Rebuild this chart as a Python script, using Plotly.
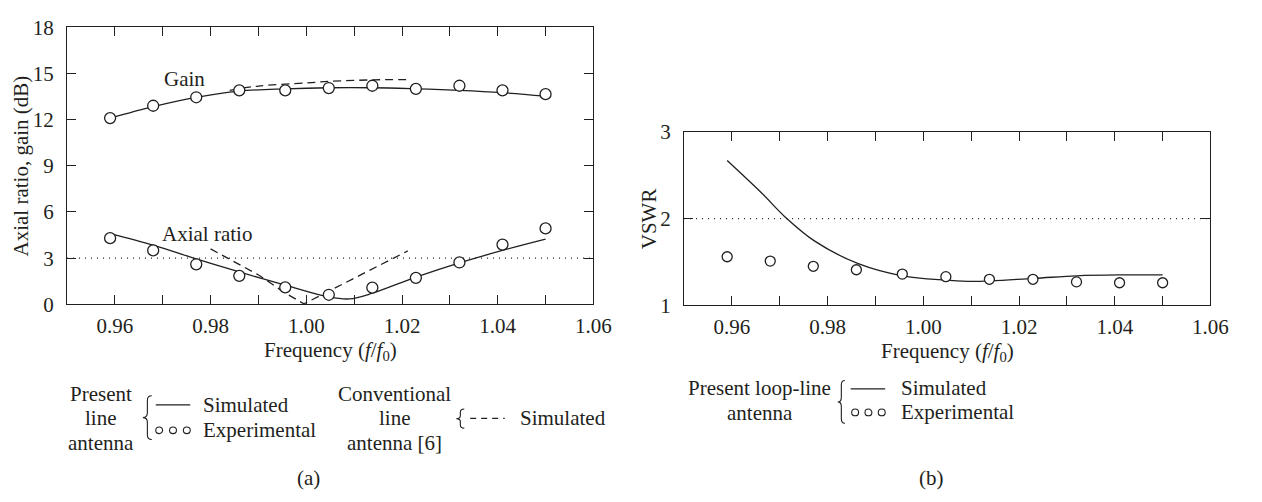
import plotly.graph_objects as go

# ---- data -------------------------------------------------------------
# (a) present line antenna, experimental points
freq_exp = [0.959, 0.968, 0.977, 0.986, 0.9956, 1.0047, 1.0138, 1.0229, 1.032, 1.041, 1.050]
gain_exp = [12.1, 12.9, 13.45, 13.9, 13.9, 14.05, 14.2, 14.0, 14.2, 13.9, 13.65]
ar_exp = [4.3, 3.5, 2.6, 1.85, 1.1, 0.62, 1.08, 1.72, 2.72, 3.88, 4.93]

# (a) present line antenna, simulated
freq_gain_sim = [0.959, 0.968, 0.977, 0.986, 0.9956, 1.0047, 1.0138, 1.0229, 1.032, 1.041, 1.050]
gain_sim = [12.1, 12.85, 13.45, 13.85, 14.0, 14.07, 14.07, 14.0, 13.9, 13.75, 13.52]
freq_ar_sim = [0.959, 0.968, 0.977, 0.986, 0.9956, 1.0047, 1.009, 1.0138, 1.0229, 1.032, 1.041, 1.050]
ar_sim = [4.6, 3.85, 2.95, 2.1, 1.25, 0.48, 0.35, 0.72, 1.76, 2.69, 3.5, 4.23]

# (a) conventional line antenna [6], simulated
freq_gain_conv = [0.984, 0.990, 1.0, 1.0047, 1.0138, 1.0212]
gain_conv = [13.9, 14.18, 14.38, 14.48, 14.58, 14.6]
freq_ar_conv = [0.980, 0.9903, 0.9951, 0.9995, 1.0212]
ar_conv = [3.6, 1.86, 0.83, 0.03, 3.47]

# (b) present loop-line antenna
vswr_exp = [1.56, 1.51, 1.45, 1.41, 1.36, 1.33, 1.30, 1.30, 1.27, 1.26, 1.26]
freq_vswr_sim = [0.959, 0.9663, 0.9711, 0.9773, 0.9864, 0.9956, 1.0048, 1.0103, 1.023, 1.032, 1.041, 1.050]
vswr_sim = [2.67, 2.29, 2.02, 1.74, 1.48, 1.34, 1.29, 1.275, 1.31, 1.34, 1.35, 1.35]

ar_limit = 3.0
vswr_limit = 2.0

x_ticks = [0.96, 0.98, 1.00, 1.02, 1.04, 1.06]
x_tick_text = ["0.96", "0.98", "1.00", "1.02", "1.04", "1.06"]
y_ticks_a = [0, 3, 6, 9, 12, 15, 18]
y_ticks_b = [1, 2, 3]

# ---- styling ------------------------------------------------------------
W, H = 1262, 502
INK = "#231f20"
FONT = "'Liberation Serif', 'Times New Roman', serif"
FS = 21


def px(x):
    return x / W


def py(y):
    return 1 - y / H


fig = go.Figure()

line_style = dict(color=INK, width=1.3)
marker_style = dict(symbol="circle", size=11, color="white",
                    line=dict(color=INK, width=1.3))
dotted = dict(color=INK, width=1.1, dash="1px,5px")
dashed = dict(color=INK, width=1.3, dash="8px,5px")

# (a) traces
fig.add_trace(go.Scatter(x=[0.95, 1.06], y=[ar_limit, ar_limit], mode="lines",
                         line=dotted, xaxis="x", yaxis="y"))
fig.add_trace(go.Scatter(x=freq_gain_conv, y=gain_conv, mode="lines",
                         line=dashed, line_shape="spline", xaxis="x", yaxis="y"))
fig.add_trace(go.Scatter(x=freq_ar_conv, y=ar_conv, mode="lines",
                         line=dashed, xaxis="x", yaxis="y"))
fig.add_trace(go.Scatter(x=freq_gain_sim, y=gain_sim, mode="lines",
                         line=line_style, line_shape="spline",
                         xaxis="x", yaxis="y"))
fig.add_trace(go.Scatter(x=freq_ar_sim, y=ar_sim, mode="lines",
                         line=line_style, line_shape="spline",
                         xaxis="x", yaxis="y"))
fig.add_trace(go.Scatter(x=freq_exp, y=gain_exp, mode="markers",
                         marker=marker_style, xaxis="x", yaxis="y"))
fig.add_trace(go.Scatter(x=freq_exp, y=ar_exp, mode="markers",
                         marker=marker_style, xaxis="x", yaxis="y"))

# (b) traces
fig.add_trace(go.Scatter(x=[0.95, 1.06], y=[vswr_limit, vswr_limit], mode="lines",
                         line=dotted, xaxis="x2", yaxis="y2"))
fig.add_trace(go.Scatter(x=freq_vswr_sim, y=vswr_sim, mode="lines",
                         line=line_style, line_shape="spline",
                         xaxis="x2", yaxis="y2"))
fig.add_trace(go.Scatter(x=freq_exp, y=vswr_exp, mode="markers",
                         marker=dict(symbol="circle", size=10, color="white",
                                     line=dict(color=INK, width=1.3)),
                         xaxis="x2", yaxis="y2"))

axis_common = dict(showgrid=False, zeroline=False, showline=True, linecolor=INK,
                   linewidth=1.2, mirror="ticks", ticks="inside", ticklen=9,
                   tickwidth=1.1, tickcolor=INK, fixedrange=True,
                   tickfont=dict(family=FONT, size=FS, color=INK))
x_common = dict(axis_common, range=[0.95, 1.06], tickvals=x_ticks,
                ticktext=x_tick_text, ticklabelstandoff=2,
                minor=dict(dtick=0.01, tick0=0.95, ticks="inside", ticklen=9,
                           tickwidth=1.1, tickcolor=INK))

fig.update_layout(
    width=W, height=H,
    margin=dict(l=0, r=0, t=0, b=0),
    paper_bgcolor="white", plot_bgcolor="white",
    showlegend=False,
    font=dict(family=FONT, size=FS, color=INK),
    xaxis=dict(x_common, domain=[px(68), px(602)], anchor="y"),
    yaxis=dict(axis_common, domain=[py(307), py(16)], range=[0, 18],
               tickvals=y_ticks_a, ticklabelstandoff=8, anchor="x"),
    xaxis2=dict(x_common, domain=[px(694), px(1228)], anchor="y2"),
    yaxis2=dict(axis_common, domain=[py(308), py(126)], range=[1, 3],
                tickvals=y_ticks_b, ticklabelstandoff=8, anchor="x2"),
)

ann = []


def text(x, y, s, anchor="center", size=FS, angle=0, xref="paper", yref="paper"):
    ann.append(dict(x=x, y=y, xref=xref, yref=yref, text=s, showarrow=False,
                    xanchor=anchor, yanchor="middle", textangle=angle,
                    font=dict(family=FONT, size=size, color=INK)))


freq_title = "Frequency (<i>f</i>/<i>f</i><sub>0</sub>)"

# axis titles
text(px(21), py(161.5), "Axial ratio, gain (dB)", angle=-90)
text(px(335), py(355.5), freq_title)
text(px(658), py(217), "VSWR", angle=-90)
text(px(961), py(357), freq_title)

# curve labels in (a)
text(0.9746, 14.65, "Gain", xref="x", yref="y")
text(0.9793, 4.55, "Axial ratio", xref="x", yref="y")

# legend of (a)
text(px(102.5), py(401.7), "Present")
text(px(102.5), py(426.7), "line")
text(px(102.5), py(452.7), "antenna")
text(px(204), py(412.7), "Simulated", anchor="left")
text(px(204), py(439.3), "Experimental", anchor="left")
text(px(400.5), py(401), "Conventional")
text(px(400.5), py(426.7), "line")
text(px(400.5), py(452.7), "antenna [6]")
text(px(525), py(426.7), "Simulated", anchor="left")
text(px(313), py(489), "(a)")

# legend of (b)
text(px(770.5), py(395), "Present loop-line")
text(px(771), py(420.7), "antenna")
text(px(912), py(395), "Simulated", anchor="left")
text(px(912), py(420.5), "Experimental", anchor="left")
text(px(945), py(489), "(b)")

fig.update_layout(annotations=ann)

shapes = []


def brace(xl, xr, yt, yb):
    """Left-pointing curly brace between pixel rows yt and yb."""
    xm = (xl + xr) / 2
    ym = (yt + yb) / 2
    r = min(5.0, (yb - yt) / 6)
    pts = [
        f"M {px(xr)},{py(yt)}",
        f"Q {px(xm)},{py(yt)} {px(xm)},{py(yt + r)}",
        f"L {px(xm)},{py(ym - r)}",
        f"Q {px(xm)},{py(ym)} {px(xl)},{py(ym)}",
        f"Q {px(xm)},{py(ym)} {px(xm)},{py(ym + r)}",
        f"L {px(xm)},{py(yb - r)}",
        f"Q {px(xm)},{py(yb)} {px(xr)},{py(yb)}",
    ]
    shapes.append(dict(type="path", path=" ".join(pts), xref="paper", yref="paper",
                       line=dict(color=INK, width=1.1)))


def sample_line(x0, x1, y, dash="solid"):
    shapes.append(dict(type="line", xref="paper", yref="paper",
                       x0=px(x0), x1=px(x1), y0=py(y), y1=py(y),
                       line=dict(color=INK, width=1.3, dash=dash)))


def sample_circles(x0, x1, y, r=3.5):
    for i in range(3):
        cx = x0 + r + i * (x1 - x0 - 2 * r) / 2
        shapes.append(dict(type="circle", xref="paper", yref="paper",
                           x0=px(cx - r), x1=px(cx + r), y0=py(y + r), y1=py(y - r),
                           line=dict(color=INK, width=1.1)))


brace(145, 154, 403, 449)
sample_line(158, 193, 412.7)
sample_circles(158, 193, 439.3)
brace(463, 471, 417, 437)
sample_line(477, 512, 426.7, dash="6px,5px")

brace(850, 857, 387, 432)
sample_line(863, 898, 395.7)
sample_circles(864, 898, 420.5)

fig.update_layout(shapes=shapes)

fig.write_html("out.html")
